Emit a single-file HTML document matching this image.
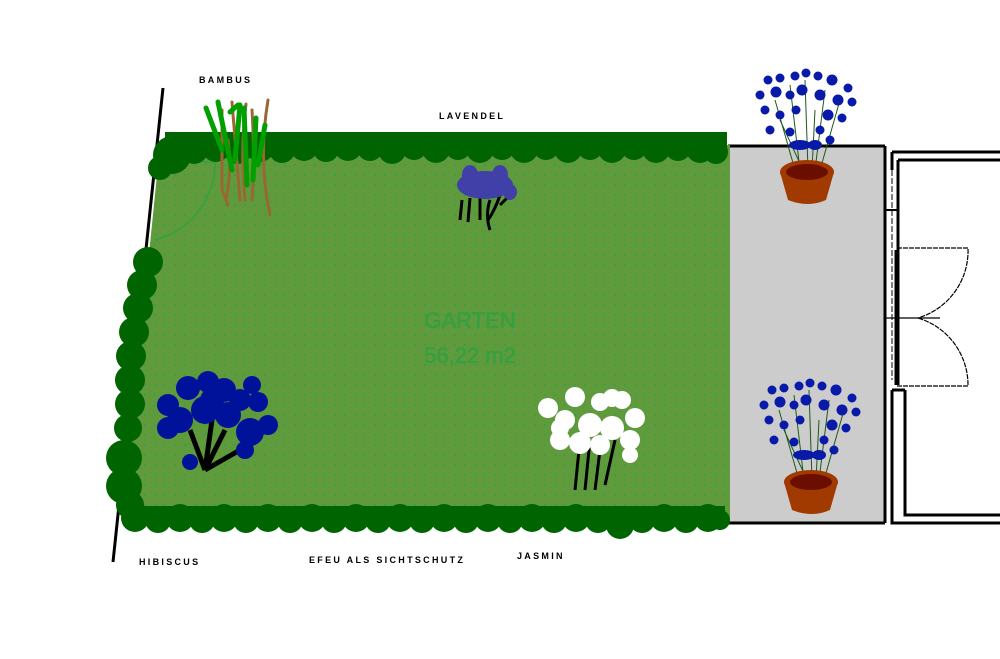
<!DOCTYPE html>
<html><head><meta charset="utf-8"><style>
html,body{margin:0;padding:0;background:#fff;}
svg{display:block}
text{font-family:"Liberation Sans",sans-serif;}
.lbl{font-size:9px;font-weight:bold;letter-spacing:2.3px;fill:#000}
</style></head><body>
<svg width="1000" height="659" viewBox="0 0 1000 659" xmlns="http://www.w3.org/2000/svg">
<defs>
<pattern id="dots" width="10" height="10" patternUnits="userSpaceOnUse">
<rect x="4" y="4" width="2" height="2" fill="#3ea03e"/>
</pattern>
</defs>
<line x1="163" y1="88" x2="113" y2="562" stroke="#000" stroke-width="3"/>
<rect x="728" y="147" width="157" height="376" fill="#cccccc"/>
<line x1="728" y1="146" x2="885" y2="146" stroke="#000" stroke-width="3"/>
<line x1="728" y1="523" x2="885" y2="523" stroke="#000" stroke-width="3"/>
<line x1="885" y1="146" x2="885" y2="523" stroke="#000" stroke-width="3"/>
<g fill="none" stroke="#000">
<path d="M892 152 H1000 M898 160 H1000" stroke-width="3"/>
<path d="M892 152 V170 M898 160 V250" stroke-width="3"/>
<path d="M892 170 V380" stroke-width="1" stroke-dasharray="6 2"/>
<line x1="897" y1="250" x2="897" y2="385" stroke-width="5"/>
<path d="M897 248 H968 A70 70 0 0 1 918 318" stroke-width="1.2" stroke-dasharray="5 1"/>
<path d="M897 386 H968 A70 70 0 0 0 918 318" stroke-width="1.2" stroke-dasharray="5 1"/>
<line x1="885" y1="318" x2="940" y2="318" stroke-width="1.2"/>
<line x1="885" y1="210" x2="897" y2="210" stroke-width="2"/>
<path d="M892 390 V523 H1000 M905 390 V515 H1000 M892 390 H905" stroke-width="3"/>
</g>
<polygon points="160,145 730,145 730,522 122,522" fill="#5f9b3c"/>
<polygon points="160,145 730,145 730,522 122,522" fill="url(#dots)"/>
<path d="M155 240 A80 80 0 0 0 215 160" fill="none" stroke="#3aa040" stroke-width="2"/>
<path d="M168 162 H215" stroke="#3aa040" stroke-width="2"/>
<g fill="#006400">
<rect x="165" y="132" width="562" height="22"/>
<circle cx="172" cy="155" r="19"/><circle cx="160" cy="168" r="12"/>
<circle cx="194" cy="150" r="14"/><circle cx="216" cy="148" r="14"/><circle cx="238" cy="150" r="14"/><circle cx="260" cy="148" r="14"/><circle cx="282" cy="150" r="13"/><circle cx="304" cy="147" r="14"/><circle cx="326" cy="149" r="13"/><circle cx="348" cy="147" r="14"/><circle cx="370" cy="148" r="13"/><circle cx="392" cy="150" r="14"/><circle cx="414" cy="147" r="13"/><circle cx="436" cy="149" r="14"/><circle cx="458" cy="147" r="13"/><circle cx="480" cy="149" r="14"/><circle cx="502" cy="147" r="13"/><circle cx="524" cy="149" r="14"/><circle cx="546" cy="147" r="13"/><circle cx="568" cy="149" r="14"/><circle cx="590" cy="147" r="13"/><circle cx="612" cy="149" r="14"/><circle cx="634" cy="147" r="13"/><circle cx="656" cy="149" r="14"/><circle cx="678" cy="148" r="13"/><circle cx="700" cy="149" r="14"/><circle cx="716" cy="152" r="12"/>
<rect x="125" y="506" width="600" height="20"/>
<circle cx="135" cy="518" r="14"/><circle cx="158" cy="520" r="13"/><circle cx="180" cy="518" r="14"/><circle cx="202" cy="520" r="13"/><circle cx="224" cy="518" r="14"/><circle cx="246" cy="520" r="13"/><circle cx="268" cy="518" r="14"/><circle cx="290" cy="520" r="13"/><circle cx="312" cy="518" r="14"/><circle cx="334" cy="520" r="13"/><circle cx="356" cy="518" r="14"/><circle cx="378" cy="520" r="13"/><circle cx="400" cy="518" r="14"/><circle cx="422" cy="520" r="13"/><circle cx="444" cy="518" r="14"/><circle cx="466" cy="520" r="13"/><circle cx="488" cy="518" r="14"/><circle cx="510" cy="520" r="13"/><circle cx="532" cy="518" r="14"/><circle cx="554" cy="520" r="13"/><circle cx="576" cy="518" r="14"/><circle cx="598" cy="520" r="13"/><circle cx="620" cy="525" r="14"/><circle cx="642" cy="520" r="13"/><circle cx="664" cy="518" r="14"/><circle cx="686" cy="520" r="13"/><circle cx="708" cy="518" r="14"/><circle cx="720" cy="520" r="10"/>
<circle cx="148" cy="262" r="15"/><circle cx="142" cy="285" r="15"/><circle cx="138" cy="308" r="15"/><circle cx="134" cy="332" r="15"/><circle cx="131" cy="356" r="15"/><circle cx="130" cy="380" r="15"/><circle cx="130" cy="404" r="15"/><circle cx="128" cy="428" r="14"/><circle cx="124" cy="458" r="18"/><circle cx="124" cy="486" r="18"/><circle cx="130" cy="505" r="14"/>
</g>
<g fill="none" stroke-linecap="round">
<g stroke="#9a6633" stroke-width="3">
<path d="M222 110 V190 L228 205"/><path d="M232 102 Q236 150 240 200"/><path d="M246 104 Q240 150 245 200"/><path d="M252 110 Q255 160 252 200"/><path d="M268 100 Q258 160 270 215"/><path d="M228 140 Q232 170 226 200"/>
</g>
<g stroke="#00a000" stroke-width="5">
<path d="M206 108 L222 150"/><path d="M218 102 L232 170"/><path d="M240 105 L235 160"/><path d="M244 108 L247 185"/><path d="M256 118 L253 180"/><path d="M265 125 L258 165"/><path d="M230 112 L238 105"/>
</g>
</g>
<g>
<g stroke="#000" stroke-width="3" fill="none"><path d="M462 200 L460 220"/><path d="M470 198 L468 222"/><path d="M480 198 L480 220"/><path d="M490 200 Q485 215 490 230"/><path d="M500 195 Q495 210 488 220"/><path d="M510 195 L500 205"/></g>
<g fill="#4040a8"><ellipse cx="485" cy="185" rx="28" ry="14"/><ellipse cx="470" cy="175" rx="8" ry="10"/><ellipse cx="500" cy="175" rx="8" ry="10"/><ellipse cx="510" cy="192" rx="7" ry="8"/></g>
</g>
<g>
<g stroke="#000" stroke-width="5" fill="none"><path d="M205 470 L190 430"/><path d="M205 470 L212 420"/><path d="M205 470 L225 430"/><path d="M205 470 L240 450"/></g>
<g fill="#00129a">
<circle cx="168" cy="405" r="11"/><circle cx="188" cy="388" r="12"/><circle cx="208" cy="382" r="11"/><circle cx="224" cy="390" r="12"/><circle cx="240" cy="400" r="11"/><circle cx="252" cy="385" r="9"/><circle cx="258" cy="402" r="10"/><circle cx="268" cy="425" r="10"/><circle cx="250" cy="432" r="14"/><circle cx="228" cy="415" r="13"/><circle cx="205" cy="410" r="14"/><circle cx="180" cy="420" r="13"/><circle cx="168" cy="428" r="11"/><circle cx="190" cy="462" r="8"/><circle cx="245" cy="450" r="9"/><circle cx="212" cy="400" r="12"/>
</g>
</g>
<g>
<g stroke="#000" stroke-width="3" fill="none"><path d="M575 490 L580 440"/><path d="M585 490 L590 440"/><path d="M595 490 L600 450"/><path d="M605 485 L615 440"/></g>
<g fill="#fff">
<circle cx="548" cy="408" r="10"/><circle cx="575" cy="397" r="10"/><circle cx="600" cy="402" r="9"/><circle cx="612" cy="398" r="9"/><circle cx="622" cy="400" r="9"/><circle cx="635" cy="418" r="10"/><circle cx="630" cy="440" r="10"/><circle cx="630" cy="455" r="8"/><circle cx="565" cy="420" r="10"/><circle cx="590" cy="425" r="12"/><circle cx="612" cy="428" r="12"/><circle cx="560" cy="440" r="10"/><circle cx="580" cy="443" r="11"/><circle cx="600" cy="445" r="10"/><circle cx="560" cy="428" r="9"/>
</g>
</g>
<g id="pot1">
<g stroke="#1a5a1a" stroke-width="1" fill="none">
<path d="M795 170 L775 100"/><path d="M800 170 L790 85"/><path d="M808 170 L805 80"/><path d="M815 170 L825 90"/><path d="M820 170 L840 100"/><path d="M812 170 L815 110"/><path d="M803 170 L780 120"/>
</g>
<path d="M780 172 L788 200 Q808 208 826 200 L834 172 Z" fill="#a03a00"/>
<ellipse cx="807" cy="172" rx="27" ry="12" fill="#a03a00"/>
<ellipse cx="807" cy="172" rx="21" ry="8" fill="#6a0e00"/>
<g fill="#0a1aa8">
<circle cx="768" cy="80" r="4.5"/><circle cx="780" cy="78" r="4.5"/><circle cx="795" cy="76" r="4.5"/><circle cx="806" cy="73" r="4.5"/><circle cx="818" cy="76" r="4.5"/><circle cx="832" cy="80" r="5.5"/><circle cx="848" cy="88" r="4.5"/><circle cx="760" cy="95" r="4.5"/><circle cx="776" cy="92" r="5.5"/><circle cx="790" cy="95" r="4.5"/><circle cx="802" cy="90" r="5.5"/><circle cx="820" cy="95" r="5.5"/><circle cx="838" cy="100" r="5.5"/><circle cx="852" cy="102" r="4.5"/><circle cx="765" cy="110" r="4.5"/><circle cx="780" cy="115" r="4.5"/><circle cx="796" cy="110" r="4.5"/><circle cx="828" cy="115" r="5.5"/><circle cx="842" cy="118" r="4.5"/><circle cx="770" cy="130" r="4.5"/><circle cx="790" cy="132" r="4.5"/><circle cx="820" cy="130" r="4.5"/><circle cx="830" cy="140" r="4.5"/><ellipse cx="800" cy="145" rx="11" ry="5"/><ellipse cx="815" cy="145" rx="7" ry="5"/>
</g>
</g>
<g transform="translate(4,310)">
<use href="#pot1"/>
</g>
<text x="470" y="328" text-anchor="middle" font-size="22" fill="#36a040" stroke="#36a040" stroke-width="0.6">GARTEN</text>
<text x="470" y="363" text-anchor="middle" font-size="22" fill="#36a040" stroke="#36a040" stroke-width="0.6">56,22 m2</text>
<text class="lbl" x="199" y="83">BAMBUS</text>
<text class="lbl" x="439" y="119">LAVENDEL</text>
<text class="lbl" x="139" y="565">HIBISCUS</text>
<text class="lbl" x="309" y="563">EFEU ALS SICHTSCHUTZ</text>
<text class="lbl" x="517" y="559">JASMIN</text>
</svg>
</body></html>
